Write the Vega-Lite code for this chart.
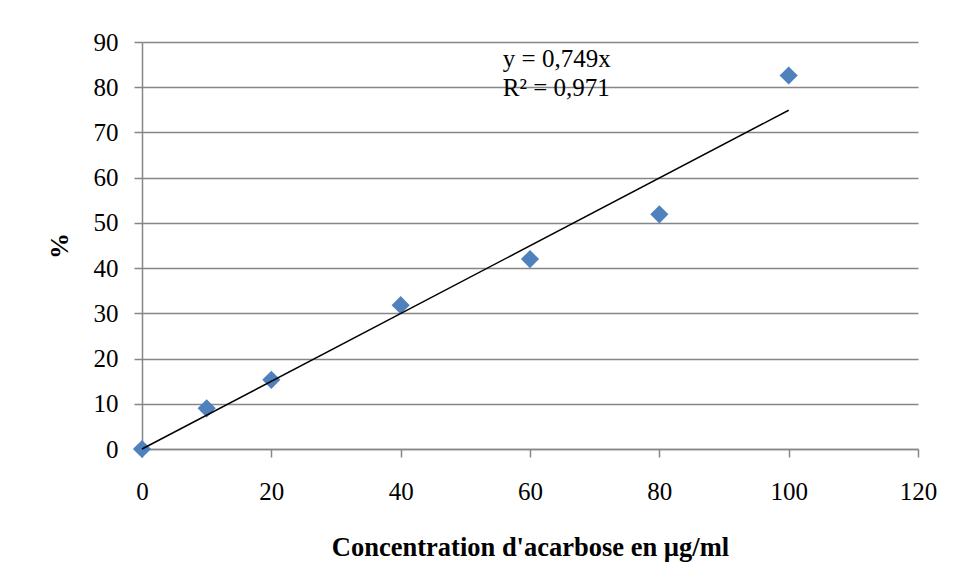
{
  "$schema": "https://vega.github.io/schema/vega-lite/v6.json",
  "autosize": "none",
  "width": 776,
  "height": 407,
  "padding": {"left": 142, "top": 42, "right": 36, "bottom": 132},
  "background": "white",
  "config": {
    "view": {"stroke": null},
    "font": "Liberation Serif"
  },
  "datasets": {
    "points": [
      {"conc": 0, "pct": 0},
      {"conc": 10, "pct": 9.0},
      {"conc": 20, "pct": 15.3},
      {"conc": 40, "pct": 31.8},
      {"conc": 60, "pct": 42.0},
      {"conc": 80, "pct": 51.9},
      {"conc": 100, "pct": 82.6}
    ],
    "trend": [
      {"conc": 0, "pct": 0},
      {"conc": 100, "pct": 74.9}
    ],
    "eq": [
      {"label": "y = 0,749x"}
    ],
    "r2": [
      {"label": "R² = 0,971"}
    ]
  },
  "layer": [
    {
      "data": {"name": "points"},
      "mark": {"type": "point", "shape": "diamond", "filled": true, "size": 330, "color": "#4F81BD", "opacity": 1},
      "encoding": {
        "x": {
          "field": "conc", "type": "quantitative",
          "scale": {"domain": [0, 120], "nice": false},
          "axis": {
            "title": "Concentration d'acarbose en µg/ml",
            "values": [0, 20, 40, 60, 80, 100, 120],
            "grid": false, "labelFlush": false,
            "domainColor": "#868686", "domainWidth": 1.5,
            "tickColor": "#868686", "tickSize": 8, "tickWidth": 1.5,
            "labelFont": "Liberation Serif", "labelFontSize": 25, "labelColor": "black",
            "labelPadding": 22,
            "titleFont": "Liberation Serif", "titleFontSize": 26.5, "titleFontWeight": "bold", "titleColor": "black",
            "titlePadding": 30
          }
        },
        "y": {
          "field": "pct", "type": "quantitative",
          "scale": {"domain": [0, 90], "nice": false},
          "axis": {
            "title": "%",
            "values": [0, 10, 20, 30, 40, 50, 60, 70, 80, 90],
            "grid": true, "gridColor": "#868686", "gridWidth": 1.5, "labelFlush": false,
            "domainColor": "#868686", "domainWidth": 1.5,
            "tickColor": "#868686", "tickSize": 8, "tickWidth": 1.5,
            "labelFont": "Liberation Serif", "labelFontSize": 25, "labelColor": "black",
            "labelPadding": 16,
            "titleFont": "Liberation Serif", "titleFontSize": 26, "titleFontWeight": "bold", "titleColor": "black",
            "titlePadding": 21
          }
        }
      }
    },
    {
      "data": {"name": "trend"},
      "mark": {"type": "line", "color": "black", "strokeWidth": 1.5},
      "encoding": {
        "x": {"field": "conc", "type": "quantitative"},
        "y": {"field": "pct", "type": "quantitative"}
      }
    },
    {
      "data": {"name": "eq"},
      "mark": {"type": "text", "align": "left", "baseline": "alphabetic", "font": "Liberation Serif", "fontSize": 25, "color": "black"},
      "encoding": {
        "text": {"field": "label"},
        "x": {"datum": 55.8, "type": "quantitative"},
        "y": {"datum": 84.5, "type": "quantitative"}
      }
    },
    {
      "data": {"name": "r2"},
      "mark": {"type": "text", "align": "left", "baseline": "alphabetic", "font": "Liberation Serif", "fontSize": 25, "color": "black"},
      "encoding": {
        "text": {"field": "label"},
        "x": {"datum": 55.8, "type": "quantitative"},
        "y": {"datum": 78.1, "type": "quantitative"}
      }
    }
  ]
}
